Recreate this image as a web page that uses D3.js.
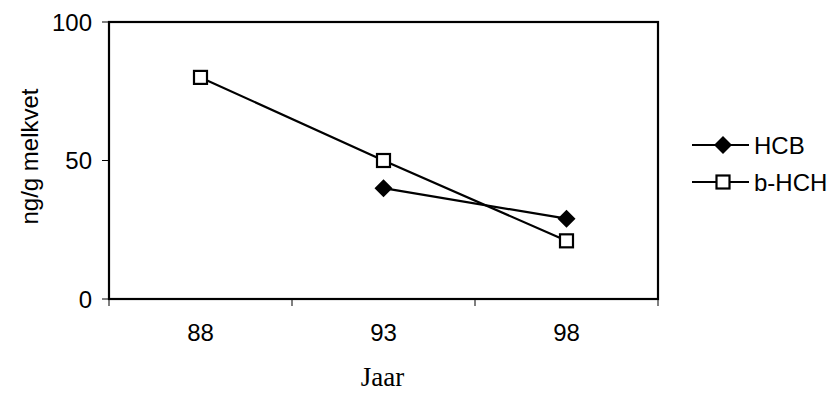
<!DOCTYPE html>
<html>
<head>
<meta charset="utf-8">
<script src="https://cdn.jsdelivr.net/npm/d3@7"></script>
<style>
  html, body { margin: 0; padding: 0; background: #fff; }
  svg { display: block; }
</style>
</head>
<body>
<svg id="chart" width="832" height="394"></svg>
<script>
// Years on the category axis
const years = ["88", "93", "98"];
// Concentrations in ng/g milk fat (null = not measured)
const hcb = [null, 40, 29];
const bhch = [80, 50, 21];
// Value-axis ticks
const yTicks = [0, 50, 100];
const seriesNames = ["HCB", "b-HCH"];

const svg = d3.select("#chart");
const margin = { left: 109, right: 174, top: 22, bottom: 95 };
const W = 832, H = 394;
const plotW = W - margin.left - margin.right;
const plotH = H - margin.top - margin.bottom;

const x = d3.scaleBand().domain(years).range([0, plotW]).paddingInner(0).paddingOuter(0);
const y = d3.scaleLinear().domain([0, 100]).range([plotH, 0]);

const g = svg.append("g").attr("transform", `translate(${margin.left},${margin.top})`);

const sans = "Liberation Sans, Arial, sans-serif";
const fs = 24;

// Plot frame
g.append("rect")
  .attr("x", 0).attr("y", 0).attr("width", plotW).attr("height", plotH)
  .attr("fill", "none").attr("stroke", "#000").attr("stroke-width", 2.2);

// Y axis ticks and labels
const yAxis = g.append("g");
yAxis.selectAll("line").data(yTicks).join("line")
  .attr("x1", -7).attr("x2", 0)
  .attr("y1", d => y(d)).attr("y2", d => y(d))
  .attr("stroke", "#000").attr("stroke-width", 1);
yAxis.selectAll("text").data(yTicks).join("text")
  .attr("x", -17).attr("y", d => y(d))
  .attr("text-anchor", "end").attr("dominant-baseline", "central")
  .attr("font-family", sans).attr("font-size", fs)
  .text(d => d);

// X axis: tick marks between categories, labels centred in each band
const xEdges = years.map(d => x(d)).concat([plotW]);
const xAxis = g.append("g");
xAxis.selectAll("line").data(xEdges).join("line")
  .attr("x1", d => d).attr("x2", d => d)
  .attr("y1", plotH).attr("y2", plotH + 7)
  .attr("stroke", "#000").attr("stroke-width", 1);
xAxis.selectAll("text").data(years).join("text")
  .attr("x", d => x(d) + x.bandwidth() / 2)
  .attr("y", plotH + 33)
  .attr("text-anchor", "middle").attr("dominant-baseline", "central")
  .attr("font-family", sans).attr("font-size", fs)
  .text(d => d);

// Axis titles
svg.append("text")
  .attr("x", margin.left + plotW / 2 - 1)
  .attr("y", 377)
  .attr("text-anchor", "middle").attr("dominant-baseline", "central")
  .attr("font-family", "Liberation Serif, Times New Roman, serif")
  .attr("font-size", 27)
  .text("Jaar");
svg.append("text")
  .attr("transform", `translate(29,${margin.top + plotH / 2 - 4}) rotate(-90)`)
  .attr("text-anchor", "middle").attr("dominant-baseline", "central")
  .attr("font-family", sans).attr("font-size", fs)
  .text("ng/g melkvet");

const cx = d => x(d) + x.bandwidth() / 2;
const line = d3.line()
  .defined(d => d.v != null)
  .x(d => cx(d.year))
  .y(d => y(d.v));

// Filled diamond marker, half-diagonal r
const diamondPath = (r) => `M0,${-r}L${r},0L0,${r}L${-r},0Z`;
const square = (sel) => sel.attr("width", 13).attr("height", 13)
  .attr("fill", "#fff").attr("stroke", "#000").attr("stroke-width", 2.2);

const dataH = years.map((yr, i) => ({ year: yr, v: hcb[i] }));
const dataB = years.map((yr, i) => ({ year: yr, v: bhch[i] }));

// Lines
g.append("path").datum(dataH).attr("d", line)
  .attr("fill", "none").attr("stroke", "#000").attr("stroke-width", 2.2);
g.append("path").datum(dataB).attr("d", line)
  .attr("fill", "none").attr("stroke", "#000").attr("stroke-width", 2.2);

// Markers
g.selectAll(".mh").data(dataH.filter(d => d.v != null)).join("path")
  .attr("class", "mh")
  .attr("transform", d => `translate(${cx(d.year)},${y(d.v)})`)
  .attr("d", diamondPath(9)).attr("fill", "#000");
g.selectAll(".mb").data(dataB).join("rect")
  .attr("class", "mb")
  .attr("x", d => cx(d.year) - 6.5).attr("y", d => y(d.v) - 6.5)
  .call(square);

// Legend
const legend = svg.append("g").attr("transform", "translate(692,145)");
seriesNames.forEach((name, i) => {
  const row = legend.append("g").attr("transform", `translate(0,${i * 37})`);
  row.append("line").attr("x1", 0).attr("x2", 57).attr("y1", 0).attr("y2", 0)
    .attr("stroke", "#000").attr("stroke-width", 2.2);
  if (i === 0) {
    row.append("path").attr("transform", "translate(31,0)").attr("d", diamondPath(9)).attr("fill", "#000");
  } else {
    row.append("rect").attr("x", 24.5).attr("y", -6.5).call(square);
  }
  row.append("text").attr("x", 62).attr("y", 0)
    .attr("dominant-baseline", "central")
    .attr("font-family", sans).attr("font-size", fs)
    .text(name);
});
</script>
</body>
</html>
